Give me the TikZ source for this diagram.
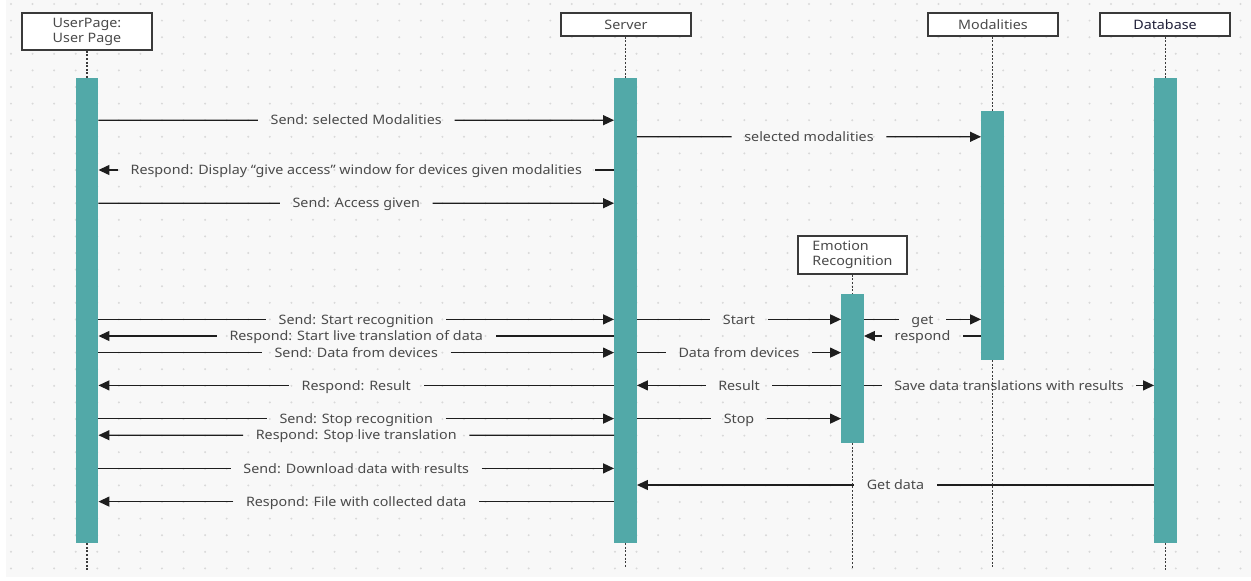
\documentclass[tikz,border=0pt]{standalone}
\usepackage{fontspec}
\setmainfont[FakeStretch=1.1]{Noto Sans}
\usetikzlibrary{arrows.meta,calc}
\definecolor{bg}{HTML}{F8F8F8}
\definecolor{griddot}{HTML}{D9D9D9}
\definecolor{barteal}{HTML}{52A9A8}
\definecolor{txtgray}{HTML}{4A4A4A}
\definecolor{linedark}{HTML}{1E1E1E}
\definecolor{boxline}{HTML}{3A3A3A}
\definecolor{dbtext}{HTML}{1F1F38}
\tikzset{
  actor/.style={draw=boxline, line width=1.5pt, fill=white, text=txtgray,
    minimum width=130pt, inner sep=0pt, font=\fontsize{13}{15}\selectfont},
  bar/.style={fill=barteal, draw=none, minimum width=22.5pt, inner sep=0pt},
  life/.style={draw=boxline, line width=1.3pt, dash pattern=on 2pt off 1.6pt},
  seg/.style={draw=linedark, line width=1.3pt},
  msg/.style={seg, -{Triangle[length=11pt,width=10pt]}},
  % fixed height and depth keep the capitals centred on the line
  lbl/.style={text=txtgray, inner xsep=12.5pt, inner ysep=0pt,
    text height=12pt, text depth=2.7pt,
    font=\fontsize{13}{15}\selectfont}
}
% message with its label cut into the line: left to right / right to left
\newcommand{\msgR}[4]{%
  \node[lbl] (#1) at ($(#2)!0.5!(#3)$) {#4};
  \draw[seg] (#2) -- (#1.west);
  \draw[msg] (#1.east) -- (#3);}
\newcommand{\msgL}[4]{%
  \node[lbl] (#1) at ($(#2)!0.5!(#3)$) {#4};
  \draw[seg] (#2) -- (#1.east);
  \draw[msg] (#1.west) -- (#3);}
\begin{document}
\begin{tikzpicture}[x=1pt,y=-1pt]
  % canvas and dotted grid
  \useasboundingbox (0,0) rectangle (1251,581);
  \fill[white] (0,0) rectangle (1251,581);
  \fill[bg] (6,0) rectangle (1251,577);
  \foreach \i in {0,...,57}
    \foreach \j in {0,...,34}
      \fill[griddot] (11+21.57*\i, 4+16.6*\j) circle (1.1pt);

  % participants
  \node[actor, minimum height=37pt, align=center] (ubox) at (87,31.5) {UserPage:\\User Page};
  \node[actor, minimum height=23pt] (sbox) at (626,24.5) {Server};
  \node[actor, minimum height=23pt] (mbox) at (993,24.5) {Modalities};
  \node[actor, minimum height=23pt, text=dbtext] (dbox) at (1165,24.5) {Database};
  \node[actor, minimum height=38pt, minimum width=109pt, align=left] (ebox) at (852.5,255) {Emotion\\Recognition};

  % activation bars
  \node[bar, minimum height=465pt] (ubar) at (87,310.5) {};
  \node[bar, minimum height=465pt] (sbar) at (625.5,310.5) {};
  \node[bar, minimum height=249pt] (mbar) at (992.5,235.5) {};
  \node[bar, minimum height=465pt] (dbar) at (1165.5,310.5) {};
  \node[bar, minimum height=149pt] (ebar) at (852.5,368.5) {};

  % message rows
  \coordinate (r1) at (0,120.2);
  \coordinate (r2) at (0,136.8);
  \coordinate (r3) at (0,170.0);
  \coordinate (r4) at (0,203.2);
  \coordinate (r5) at (0,319.4);
  \coordinate (r6) at (0,336.0);
  \coordinate (r7) at (0,352.6);
  \coordinate (r8) at (0,385.4);
  \coordinate (r9) at (0,418.6);
  \coordinate (r10) at (0,435.2);
  \coordinate (r11) at (0,468.4);
  \coordinate (r12) at (0,485.0);
  \coordinate (r13) at (0,501.6);

  % messages
  \msgR{m1}{ubar.east |- r1}{sbar.west |- r1}{Send: selected Modalities}
  \msgR{m2}{sbar.east |- r2}{mbar.west |- r2}{selected modalities}
  \msgL{m3}{sbar.west |- r3}{ubar.east |- r3}{Respond: Display “give access” window for devices given modalities}
  \msgR{m4}{ubar.east |- r4}{sbar.west |- r4}{Send: Access given}

  \msgR{m5}{ubar.east |- r5}{sbar.west |- r5}{Send: Start recognition}
  \msgR{m6}{sbar.east |- r5}{ebar.west |- r5}{Start}
  \msgR{m7}{ebar.east |- r5}{mbar.west |- r5}{get}
  \msgL{m8}{sbar.west |- r6}{ubar.east |- r6}{Respond: Start live translation of data}
  \msgL{m9}{mbar.west |- r6}{ebar.east |- r6}{respond}
  \msgR{m10}{ubar.east |- r7}{sbar.west |- r7}{Send: Data from devices}
  \msgR{m11}{sbar.east |- r7}{ebar.west |- r7}{Data from devices}

  \msgL{m12}{sbar.west |- r8}{ubar.east |- r8}{Respond: Result}
  \msgL{m13}{ebar.west |- r8}{sbar.east |- r8}{Result}
  \msgR{m14}{ebar.east |- r8}{dbar.west |- r8}{Save data translations with results}

  \msgR{m15}{ubar.east |- r9}{sbar.west |- r9}{Send: Stop recognition}
  \msgR{m16}{sbar.east |- r9}{ebar.west |- r9}{Stop}
  \msgL{m17}{sbar.west |- r10}{ubar.east |- r10}{Respond: Stop live translation}

  \msgR{m18}{ubar.east |- r11}{sbar.west |- r11}{Send: Download data with results}
  \msgL{m19}{dbar.west |- r12}{sbar.east |- r12}{Get data}
  \msgL{m20}{sbar.west |- r13}{ubar.east |- r13}{Respond: File with collected data}

  % lifeline ends
  \coordinate (uend) at (87,570);
  \coordinate (send) at (625.5,568);
  \coordinate (mend) at (992.5,568);
  \coordinate (dend) at (1165.5,570);
  \coordinate (eend) at (852.5,568);

  % lifelines
  \draw[life] (ubox.south) -- (ubar.north);
  \draw[life] (ubar.south) -- (uend);
  \draw[life] (sbox.south -| sbar.north) -- (sbar.north);
  \draw[life] (sbar.south) -- (send);
  \draw[life] (mbox.south -| mbar.north) -- (mbar.north);
  \draw[life] (mbar.south) -- (mend);
  \draw[life] (dbox.south -| dbar.north) -- (dbar.north);
  \draw[life] (dbar.south) -- (dend);
  \draw[life] (ebox.south) -- (ebar.north);
  \draw[life] (ebar.south) -- (eend);
\end{tikzpicture}
\end{document}
